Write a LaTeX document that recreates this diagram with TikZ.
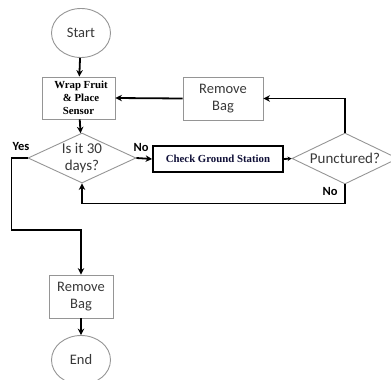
\documentclass[tikz,border=0pt]{standalone}
\usepackage{fontspec}
\setmainfont{Carlito}
\newfontfamily\timesfont{Liberation Serif}
\usepackage{xcolor}
\usetikzlibrary{arrows.meta, positioning, shapes.geometric}

\definecolor{boxgray}{HTML}{959595}
\definecolor{txtgray}{HTML}{383838}
\definecolor{navy}{HTML}{101038}

\begin{document}
\begin{tikzpicture}[x=1pt, y=-1pt,
    terminal/.style={draw=boxgray, ellipse, line width=0.9pt, minimum width=59pt,
                     minimum height=49pt, inner sep=0pt, text=txtgray,
                     font=\fontsize{14.5}{16}\selectfont},
    stepbox/.style={draw=boxgray, rectangle, line width=0.9pt, inner sep=0pt,
                    align=center, text=txtgray, font=\fontsize{14.5}{17}\selectfont},
    decision/.style={draw=boxgray, diamond, line width=0.9pt, inner sep=0pt,
                     align=center, text=txtgray, font=\fontsize{15}{17}\selectfont},
    checkbox/.style={draw=black, rectangle, line width=1.8pt, inner sep=0pt,
                     minimum width=130pt, minimum height=26pt, text=navy,
                     font=\timesfont\bfseries\fontsize{10.8}{12}\selectfont},
    flow/.style={-{Stealth[length=6.5pt, width=6.5pt]}, line width=1.8pt, black},
    tag/.style={font=\bfseries\fontsize{12.5}{14}\selectfont, text=black},
]
\clip (0,0) rectangle (391,380);

% --- main column ---
\node[terminal] (start) at (81, 33) {Start};
\node[stepbox, minimum width=73pt, minimum height=42pt,
      font=\timesfont\bfseries\fontsize{10.8}{13}\selectfont, text=black]
      (wrap) at (78.5, 98) {\hspace*{5pt}Wrap Fruit\\ \hspace*{5pt}\& Place\\ Sensor};
\node[decision, minimum width=108pt, minimum height=50pt, aspect=2.16]
      (days) at (82, 158) {Is it 30\\days?};
\node[stepbox, minimum width=64pt, minimum height=43pt] (bagb) at (81, 296.5) {Remove\\Bag};
\node[terminal] (end) at (81, 360) {End};

% --- right loop ---
\node[checkbox] (check) at (218, 159) {Check Ground Station};
\node[decision, minimum width=106pt, minimum height=51pt, aspect=2.1]
      (punct) at (345, 158.5) {Punctured?};
\node[stepbox, minimum width=80pt, minimum height=43pt] (bagt) at (223, 98.5) {Remove\\Bag};

% --- edges ---
\draw[flow] (start) -- (wrap);
\draw[flow] (wrap) -- (days);
\draw[flow] (days.east) -- (check.west);
\draw[-{Stealth[length=4pt, width=4.5pt]}, line width=1.8pt] (check.east) -- (punct.west);
\draw[flow] (punct.north) |- (bagt.east);
\draw[flow] (bagt.west) -- (wrap.east);
\draw[flow] (punct.south) -- ++(0, 19) -| (days.south);
\draw[flow] (days.west) -- ++(-16, 0) -- ++(0, 72) -| (bagb.north);
\draw[flow] (bagb) -- (end);

% --- branch labels ---
\node[tag] (yes) at (21, 146) {Yes};
\node[tag] (nodays) at (141, 147) {No};
\node[tag] (nopunct) at (330, 191) {No};

\end{tikzpicture}
\end{document}
